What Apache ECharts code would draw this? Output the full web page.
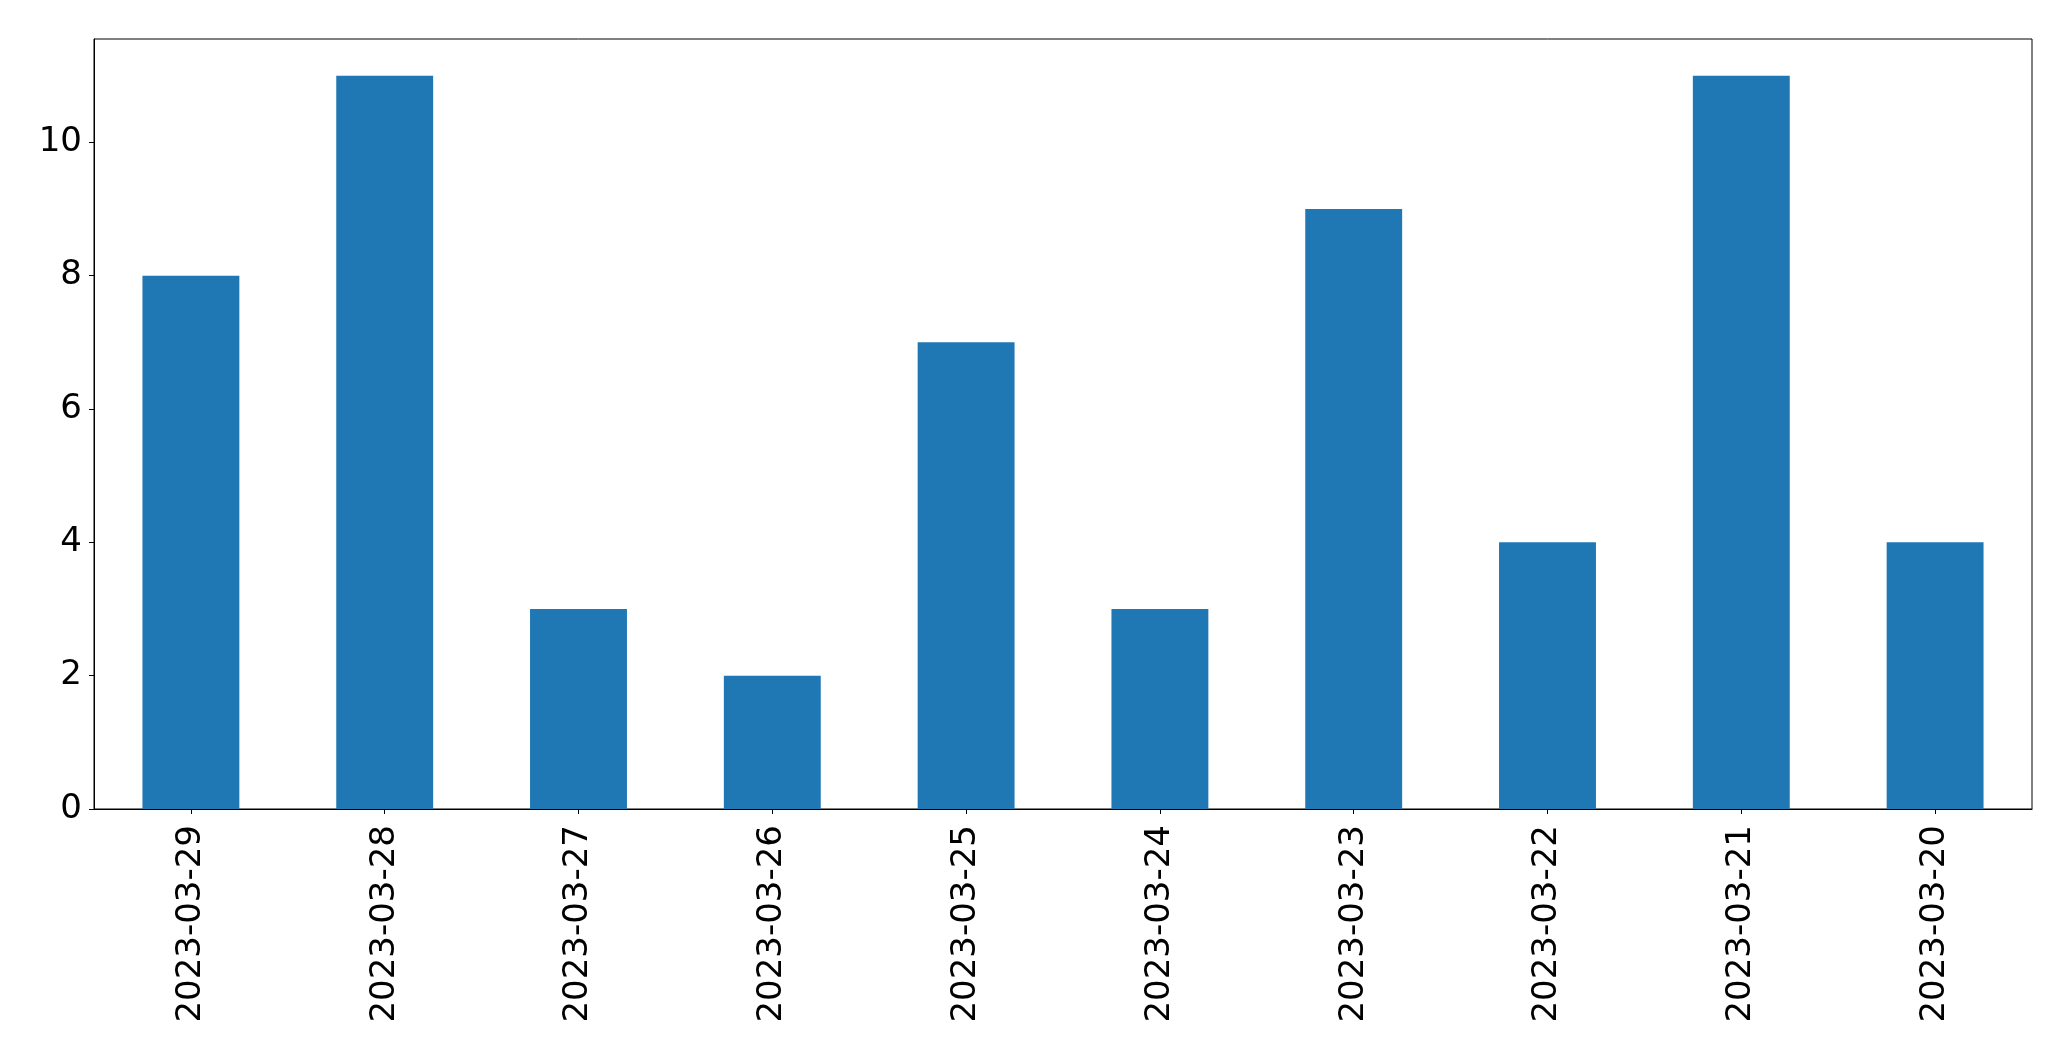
<!DOCTYPE html>
<html>
<head>
<meta charset="utf-8">
<script src="https://cdn.jsdelivr.net/npm/echarts@6/dist/echarts.min.js"></script>
<style>
html,body{margin:0;padding:0;background:#fff;}
#chart{width:2071px;height:1061px;}
</style>
</head>
<body>
<div id="chart"></div>
<script>
const categories = ["2023-03-29","2023-03-28","2023-03-27","2023-03-26","2023-03-25","2023-03-24","2023-03-23","2023-03-22","2023-03-21","2023-03-20"];
const values = [8, 11, 3, 2, 7, 3, 9, 4, 11, 4];
const yTicks = [0, 2, 4, 6, 8, 10];

const chart = echarts.init(document.getElementById('chart'), null, {renderer: 'canvas'});
const font = 'DejaVu Sans';
chart.setOption({
  animation: false,
  backgroundColor: '#fff',
  grid: {left: 94, right: 39, top: 39, bottom: 252, show: true, borderColor: '#000', borderWidth: 1, backgroundColor: 'transparent'},
  xAxis: {
    type: 'category',
    data: categories,
    axisLine: {show: true, lineStyle: {color: '#000', width: 1}},
    axisTick: {show: true, alignWithLabel: true, length: 5, lineStyle: {color: '#000'}},
    axisLabel: {rotate: 90, margin: 16, color: '#000', fontFamily: font, fontSize: 34, interval: 0},
    splitLine: {show: false}
  },
  yAxis: {
    type: 'value',
    min: 0,
    max: 11.55,
    interval: 2,
    axisLine: {show: true, lineStyle: {color: '#000', width: 1}},
    axisTick: {show: true, length: 5, lineStyle: {color: '#000'}, customValues: yTicks},
    axisLabel: {margin: 12, color: '#000', fontFamily: font, fontSize: 34, customValues: yTicks},
    splitLine: {show: false}
  },
  series: [{
    type: 'bar',
    data: values,
    barWidth: '50%',
    itemStyle: {color: '#1f77b4'}
  }]
});
</script>
</body>
</html>
